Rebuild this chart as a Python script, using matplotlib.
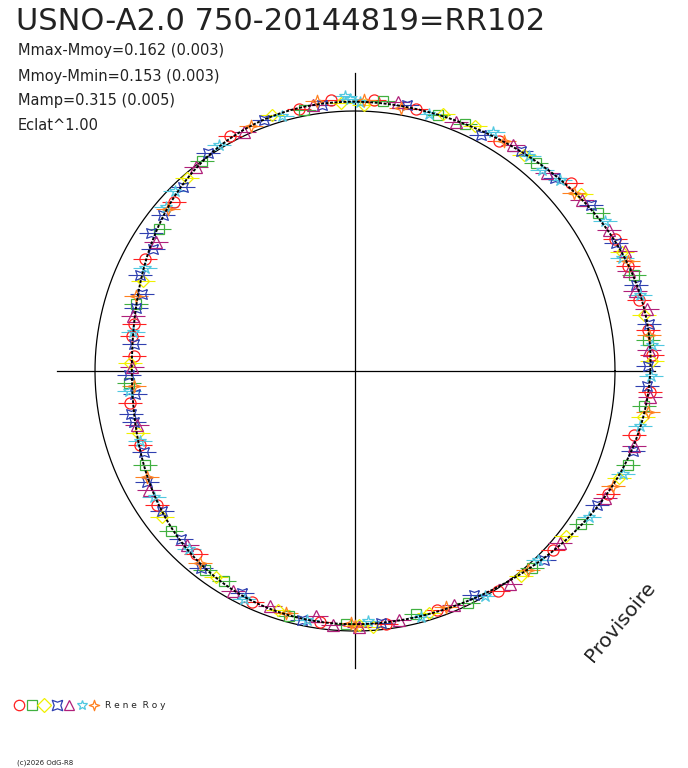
import numpy as np
import matplotlib
matplotlib.use("Agg")
import matplotlib.pyplot as plt
from matplotlib.path import Path

title = "USNO-A2.0 750-20144819=RR102"
stats = ["Mmax-Mmoy=0.162 (0.003)", "Mmoy-Mmin=0.153 (0.003)", "Mamp=0.315 (0.005)", "Eclat^1.00"]
observer = "Rene Roy"

# model curve: radius (px) vs angle (deg)
curve_ang = [0, 30, 60, 90, 120, 150, 180, 210, 240, 270, 300, 330]
curve_r = [298, 285, 276, 266, 265, 238, 222, 237, 248, 255, 257, 276]
ref_r = 260

# observations: angles (deg) and radial offsets per series
s_ang = {
 "red": [3, 14, 27, 41, 58, 77, 95, 102, 118, 137, 152, 168, 176, 188, 199, 214, 229, 246, 262, 277, 289, 303, 318, 334, 347, 356, 8, 21, 86, 171],
 "green": [6, 19, 33, 49, 66, 84, 101, 126, 144, 163, 183, 204, 221, 238, 255, 268, 284, 296, 312, 326, 341, 353, 72, 233],
 "yellow": [2, 11, 24, 38, 52, 71, 88, 108, 131, 157, 178, 196, 217, 236, 252, 271, 287, 309, 322, 338, 351, 64, 93, 274],
 "blue": [1, 9, 17, 26, 35, 44, 53, 62, 79, 97, 110, 124, 133, 141, 149, 156, 164, 173, 181, 186, 193, 201, 208, 216, 224, 232, 243, 258, 276, 298, 315, 331, 344, 357, 146, 160, 191],
 "purple": [4, 12, 20, 29, 37, 46, 55, 68, 81, 99, 115, 128, 147, 166, 179, 194, 210, 226, 241, 250, 265, 280, 293, 306, 320, 333, 345, 355, 16, 24, 261, 271],
 "cyan": [5, 15, 23, 31, 43, 51, 60, 74, 89, 92, 106, 121, 135, 154, 170, 185, 198, 212, 227, 244, 259, 273, 285, 300, 314, 328, 339, 349, 359, 47, 91, 139],
 "orange": [7, 22, 39, 57, 80, 98, 113, 139, 161, 184, 207, 231, 254, 270, 291, 311, 336, 352, 269, 88],
}
s_off = {
 "red": [2, -3, 1, 4, -2, 0, 3, -1, 2, -3, 1, 0, -2, 3, -1, 2, -3, 1, 0, 2, -2, 3, -1, 1, -3, 2, 0, -1, 3, 1],
 "green": [-2, 1, 3, -1, 0, 2, -3, 1, -2, 0, 3, -1, 2, -2, 1, 0, -3, 2, 1, -1, 3, -2, 0, 1],
 "yellow": [1, -2, 0, 3, -1, 2, -3, 1, 0, -2, 2, -1, 3, 0, -2, 1, -1, 2, -3, 1, 0, 2, -1, 3],
 "blue": [-3, 2, -1, 0, 3, -2, 1, -4, 2, -1, 0, 3, -2, 1, -3, 2, 0, -1, 3, -2, 1, -3, 2, 0, -1, 3, -2, 1, 0, -3, 2, -1, 1, -2, 4, -4, 3],
 "purple": [-1, 3, -2, 1, 0, -3, 2, -1, 3, 0, -2, 1, -4, 2, 0, -1, 3, -2, 1, -3, 2, 0, -1, 3, -2, 1, 0, 2, -4, 4, -5, 3],
 "cyan": [2, 0, -2, 3, -1, 1, 4, -2, 0, 6, -3, 1, 2, -1, 0, 3, -2, 1, -1, 2, 0, -3, 1, 2, -2, 0, 3, -1, 1, -4, 3, 2],
 "orange": [0, 2, -1, 1, -2, 3, 0, -1, 2, -2, 1, 0, -1, 2, -2, 1, 0, 3, -1, 2],
}
colors = {"red": "#ff2020", "green": "#40b040", "yellow": "#f0f000", "blue": "#3040b0",
          "purple": "#b0207a", "cyan": "#50c8e0", "orange": "#ff8020"}

def astroid(n=4, k=0.35):
    v = []
    for i in range(2 * n):
        a = np.pi * i / n
        r = 1 if i % 2 == 0 else k
        v.append((r * np.sin(a), r * np.cos(a)))
    v.append(v[0])
    return Path(v, closed=True)

rot = np.array([[np.cos(np.pi/4), -np.sin(np.pi/4)], [np.sin(np.pi/4), np.cos(np.pi/4)]])
bluestar = Path(astroid(k=0.45).vertices @ rot)
markers = {"red": "o", "green": "s", "yellow": "D", "blue": bluestar, "purple": "^", "cyan": "*", "orange": astroid()}
msize = {"red": 8, "green": 6.5, "yellow": 6, "blue": 7, "purple": 8, "cyan": 9, "orange": 9}

# Fourier fit of curve
ca = np.radians(curve_ang)
A = np.column_stack([np.ones_like(ca)] + [f(k * ca) for k in range(1, 5) for f in (np.cos, np.sin)])
coef, *_ = np.linalg.lstsq(A, np.array(curve_r, float), rcond=None)
def rmodel(deg):
    t = np.radians(np.asarray(deg, float))
    B = np.column_stack([np.ones_like(t)] + [f(k * t) for k in range(1, 5) for f in (np.cos, np.sin)])
    return B @ coef

cx, cy = 355, 371
fig = plt.figure(figsize=(6.88, 7.68), dpi=100)
ax = fig.add_axes([0, 0, 1, 1])
ax.set_xlim(0, 688); ax.set_ylim(768, 0); ax.axis("off")

ax.plot([57, 655], [cy, cy], color="black", lw=0.9)
ax.plot([cx, cx], [73, 668], color="black", lw=0.9)
t = np.linspace(0, 2 * np.pi, 400)
ax.plot(cx + ref_r * np.cos(t), cy - ref_r * np.sin(t), color="black", lw=0.9)

for key in ["red", "green", "yellow", "blue", "purple", "cyan", "orange"]:
    a = np.array(s_ang[key], float)
    r = rmodel(a) + np.array(s_off[key], float)
    x = cx + r * np.cos(np.radians(a)); y = cy - r * np.sin(np.radians(a))
    ax.errorbar(x, y, xerr=12, fmt="none", ecolor=colors[key], elinewidth=0.8, zorder=3)
    ax.plot(x, y, ls="none", marker=markers[key], ms=msize[key], mfc="none", mec=colors[key], mew=0.9, zorder=4)

ta = np.linspace(0, 360, 720)
rm = rmodel(ta)
ax.plot(cx + rm * np.cos(np.radians(ta)), cy - rm * np.sin(np.radians(ta)), color="black", lw=1.4, ls=(0, (1.5, 0.8)), zorder=5)

ax.text(16, 22, title, fontsize=22, va="center", ha="left", color="#222222")
for i, s in enumerate(stats):
    ax.text(18, 51 + 25 * i, s, fontsize=10.5, va="center", ha="left", color="#222222")
ax.text(620, 622, "Provisoire", fontsize=14.5, rotation=50, ha="center", va="center", color="#222222")

lx = 19
for key in ["red", "green", "yellow", "blue", "purple", "cyan", "orange"]:
    ax.plot([lx], [705], marker=markers[key], ms=7.5, mfc="none", mec=colors[key], mew=0.9)
    lx += 12.5
ax.text(105, 706, "R e n e  R o y", fontsize=6.5, va="center", ha="left", color="#222222")
ax.text(17, 763, "(c)2026 OdG-R8", fontsize=5, va="center", ha="left", color="#222222")

fig.savefig("out.png", dpi=100)
